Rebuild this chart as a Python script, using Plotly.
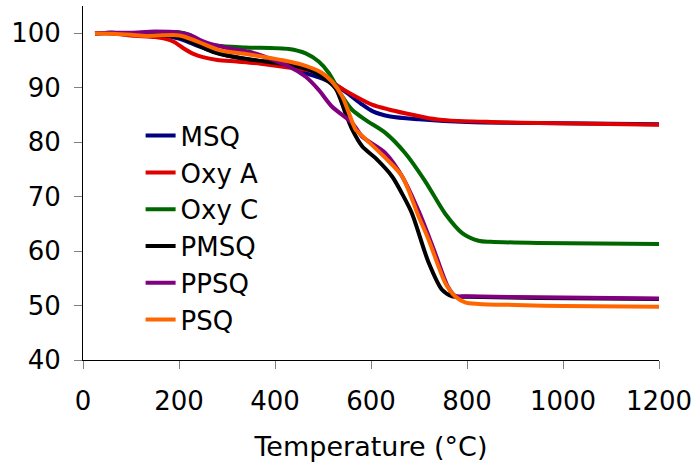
import plotly.graph_objects as go

# TGA curves, weight (%) vs temperature (C)
msq_t = [25, 60, 100, 150, 180, 200, 230, 260, 300, 350, 400, 430, 470, 500, 530, 555, 580, 605, 640, 700, 800, 950, 1200]
msq_w = [100, 100.1, 99.8, 99.6, 99.4, 99.0, 98.0, 97.0, 95.9, 95.1, 94.5, 93.8, 92.5, 91.6, 90.3, 88.7, 87.0, 85.6, 84.7, 84.2, 83.7, 83.5, 83.3]

oxya_t = [25, 60, 100, 150, 170, 190, 210, 230, 250, 280, 320, 370, 430, 470, 500, 533, 570, 602, 637, 671, 720, 762, 850, 950, 1200]
oxya_w = [100, 100, 99.6, 99.3, 99.0, 98.4, 97.2, 96.2, 95.6, 95.1, 94.8, 94.4, 93.7, 93.2, 92.4, 90.2, 88.3, 86.9, 86.0, 85.3, 84.4, 84.0, 83.7, 83.5, 83.2]

oxyc_t = [25, 60, 100, 150, 200, 222, 249, 280, 339, 429, 464, 491, 512, 540, 561, 590, 630, 671, 713, 755, 790, 824, 850, 950, 1200]
oxyc_w = [100, 100.1, 99.8, 100.0, 100.2, 99.7, 98.2, 97.7, 97.4, 97.1, 96.3, 94.8, 92.7, 88.4, 85.9, 84.0, 81.7, 78.0, 72.8, 66.8, 63.3, 61.9, 61.7, 61.5, 61.3]

pmsq_t = [25, 60, 100, 150, 190, 210, 240, 270, 300, 330, 380, 430, 470, 498, 526, 547, 561, 582, 609, 644, 665, 685, 720, 748, 769, 800, 950, 1200]
pmsq_w = [100, 100, 99.7, 99.6, 99.5, 99.0, 97.8, 96.6, 95.9, 95.4, 94.8, 94.2, 93.3, 92.0, 89.9, 85.3, 82.3, 79.2, 77.1, 73.7, 70.5, 67.0, 57.9, 52.9, 51.7, 51.6, 51.4, 51.2]

ppsq_t = [25, 60, 100, 150, 201, 222, 256, 300, 346, 429, 464, 491, 519, 561, 582, 630, 665, 700, 730, 760, 775, 800, 950, 1200]
ppsq_w = [100, 100.1, 100.1, 100.3, 100.1, 99.7, 98.3, 97.3, 96.6, 93.9, 92.0, 89.6, 86.5, 83.5, 81.0, 78.0, 73.7, 67.2, 60.5, 53.5, 51.8, 51.7, 51.5, 51.3]

psq_t = [25, 60, 100, 131, 201, 235, 284, 346, 429, 464, 498, 519, 540, 568, 575, 630, 665, 699, 720, 755, 775, 796, 824, 900, 1000, 1200]
psq_w = [100, 99.9, 99.7, 99.5, 99.6, 98.6, 96.9, 96.1, 94.8, 94.0, 92.7, 91.1, 88.4, 82.3, 81.7, 77.1, 73.7, 66.4, 62.1, 54.1, 51.7, 50.6, 50.3, 50.1, 49.9, 49.8]

series = [
    ("MSQ", msq_t, msq_w, "#000080"),
    ("Oxy A", oxya_t, oxya_w, "#E00000"),
    ("Oxy C", oxyc_t, oxyc_w, "#006600"),
    ("PMSQ", pmsq_t, pmsq_w, "#000000"),
    ("PPSQ", ppsq_t, ppsq_w, "#800080"),
    ("PSQ", psq_t, psq_w, "#FF6600"),
]

fig = go.Figure()
for name, t, w, col in series:
    fig.add_trace(go.Scatter(
        x=t, y=w, name=name, mode="lines",
        line=dict(color=col, width=4, shape="spline", smoothing=0.8),
    ))

fam = "DejaVu Sans, Verdana, sans-serif"
tick_font = dict(family=fam, size=26, color="#000000")
text_font = dict(family=fam, size=27, color="#000000")
legend_font = dict(family=fam, size=26, color="#000000")

fig.update_layout(
    width=698, height=464,
    margin=dict(l=83, r=37, t=6, b=104),
    paper_bgcolor="white", plot_bgcolor="white",
    font=text_font,
    legend=dict(x=0.1, y=0.7, xanchor="left", yanchor="top",
                bgcolor="rgba(0,0,0,0)", font=legend_font,
                tracegroupgap=0, itemwidth=30),
)
fig.update_xaxes(
    range=[0, 1200], tickvals=[0, 200, 400, 600, 800, 1000, 1200],
    showgrid=False, zeroline=False, showline=True, linecolor="black", linewidth=1,
    ticks="outside", ticklen=8, tickcolor="#808080", tickfont=tick_font,
    ticklabelstandoff=10,
    title=dict(text="Temperature (°C)", font=text_font, standoff=21),
)
fig.update_yaxes(
    range=[40, 105], tickvals=[40, 50, 60, 70, 80, 90, 100],
    showgrid=False, zeroline=False, showline=True, linecolor="black", linewidth=1,
    ticks="outside", ticklen=8, tickcolor="#808080", tickfont=tick_font,
    ticklabelstandoff=8,
)

# drop the browser's default 8px body margin so the plot sits at (0, 0)
fig.write_html("out.html", config={"displayModeBar": False},
               post_script="document.body.style.margin='0px';")
